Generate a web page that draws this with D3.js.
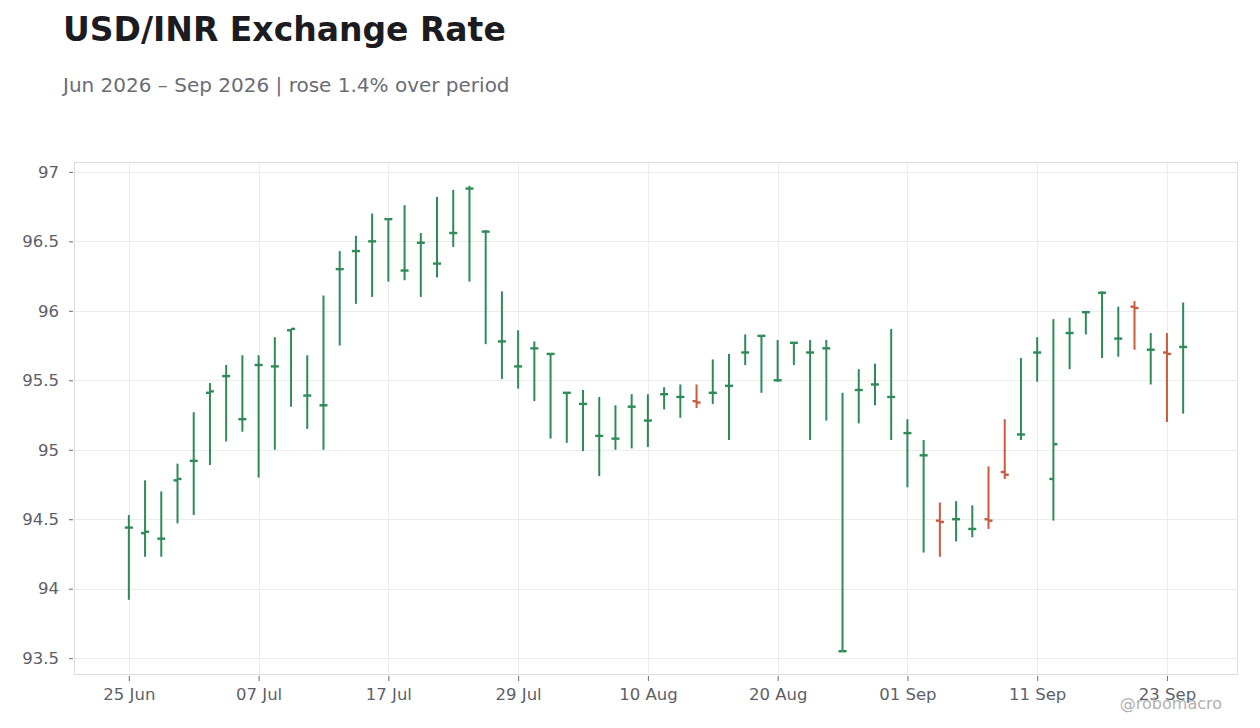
<!DOCTYPE html>
<html>
<head>
<meta charset="utf-8">
<script src="https://cdn.jsdelivr.net/npm/d3@7"></script>
<style>
  body { margin: 0; background: #ffffff; font-family: "DejaVu Sans", sans-serif; }
  .axis text { font-family: "DejaVu Sans", sans-serif; font-size: 16.5px; fill: #5c5f69; }
  .axis line { stroke: #666a72; }
  .axis path { display: none; }
</style>
</head>
<body>
<svg id="chart"></svg>
<script>
// trading days
const dates = [
  "2026-06-25","2026-06-26","2026-06-29","2026-06-30",
  "2026-07-01","2026-07-02","2026-07-03","2026-07-06","2026-07-07","2026-07-08","2026-07-09","2026-07-10",
  "2026-07-13","2026-07-14","2026-07-15","2026-07-16","2026-07-17","2026-07-20","2026-07-21","2026-07-22",
  "2026-07-23","2026-07-24","2026-07-27","2026-07-28","2026-07-29","2026-07-30","2026-07-31",
  "2026-08-03","2026-08-04","2026-08-05","2026-08-06","2026-08-07","2026-08-10","2026-08-11","2026-08-12",
  "2026-08-13","2026-08-14","2026-08-17","2026-08-18","2026-08-19","2026-08-20","2026-08-21","2026-08-24",
  "2026-08-25","2026-08-26","2026-08-27","2026-08-28","2026-08-31",
  "2026-09-01","2026-09-02","2026-09-03","2026-09-04","2026-09-07","2026-09-08","2026-09-09","2026-09-10",
  "2026-09-11","2026-09-14","2026-09-15","2026-09-16","2026-09-17","2026-09-18","2026-09-21","2026-09-22",
  "2026-09-23","2026-09-24"
];

const opens = [
  94.44,94.40,94.36,94.78,94.92,95.41,95.53,95.22,95.61,95.60,95.86,95.39,95.32,96.30,96.43,96.50,
  96.66,96.29,96.49,96.34,96.56,96.88,96.57,95.78,95.60,95.73,95.69,95.41,95.33,95.10,95.08,95.31,
  95.21,95.40,95.38,95.35,95.41,95.46,95.70,95.82,95.50,95.77,95.70,95.73,93.55,95.43,95.47,95.38,
  95.12,94.96,94.49,94.50,94.43,94.50,94.84,95.11,95.70,94.79,95.84,95.99,96.13,95.80,96.03,95.72,
  95.70,95.74
];
const highs = [
  94.53,94.78,94.70,94.90,95.27,95.48,95.61,95.68,95.68,95.81,95.87,95.68,96.11,96.43,96.54,96.70,
  96.66,96.76,96.56,96.82,96.87,96.90,96.58,96.14,95.86,95.78,95.69,95.41,95.43,95.38,95.32,95.40,
  95.40,95.45,95.47,95.47,95.65,95.69,95.83,95.82,95.79,95.77,95.79,95.79,95.41,95.58,95.62,95.87,
  95.22,95.07,94.62,94.63,94.60,94.88,95.22,95.66,95.81,95.94,95.95,96.00,96.14,96.03,96.07,95.84,
  95.84,96.06
];
const lows = [
  93.92,94.23,94.23,94.47,94.53,94.89,95.06,95.13,94.80,95.00,95.31,95.15,95.00,95.75,96.05,96.10,
  96.21,96.22,96.10,96.24,96.46,96.21,95.76,95.51,95.44,95.35,95.08,95.05,94.99,94.81,95.00,95.01,
  95.02,95.29,95.23,95.30,95.33,95.07,95.61,95.41,95.49,95.61,95.07,95.21,93.55,95.19,95.32,95.07,
  94.73,94.26,94.23,94.34,94.37,94.43,94.79,95.07,95.49,94.49,95.58,95.83,95.66,95.67,95.72,95.47,
  95.20,95.26
];
const closes = [
  94.44,94.41,94.36,94.79,94.92,95.42,95.53,95.22,95.61,95.60,95.87,95.39,95.32,96.30,96.43,96.50,
  96.66,96.29,96.49,96.34,96.56,96.88,96.57,95.78,95.60,95.73,95.69,95.41,95.33,95.10,95.08,95.31,
  95.21,95.40,95.38,95.34,95.41,95.46,95.70,95.82,95.50,95.77,95.70,95.73,93.55,95.43,95.47,95.38,
  95.12,94.96,94.48,94.50,94.43,94.49,94.82,95.11,95.70,95.04,95.84,95.99,96.13,95.80,96.02,95.72,
  95.69,95.74
];

const yTicks = [93.5, 94, 94.5, 95, 95.5, 96, 96.5, 97];

const data = dates.map((d, i) => ({ date: d, open: opens[i], high: highs[i], low: lows[i], close: closes[i] }));

const width = 1260, height = 728;
const margin = { top: 162, right: 22, bottom: 54, left: 75 };
const upColor = "#2e8b57", downColor = "#c95a3b";

const svg = d3.select("#chart").attr("width", width).attr("height", height);

svg.append("text")
  .attr("x", 63).attr("y", 41)
  .attr("font-size", 33).attr("font-weight", "bold")
  .attr("fill", "#1c1c20")
  .text("USD/INR Exchange Rate");

svg.append("text")
  .attr("x", 63).attr("y", 92)
  .attr("font-size", 20).attr("fill", "#6a6d75")
  .text("Jun 2026 \u2013 Sep 2026 | rose 1.4% over period");

const x0 = margin.left - 0.5, x1 = width - margin.right - 0.5;
const y0 = height - margin.bottom + 0.5, y1 = margin.top + 0.5;

const xScale = d3.scalePoint()
  .domain(dates)
  .range([x0, x1])
  .padding(3.35);

const lo = d3.min(lows), hi = d3.max(highs), pad = (hi - lo) * 0.05;
const yScale = d3.scaleLinear()
  .domain([lo - pad, hi + pad])
  .range([y0, y1]);

const tickDates = dates.filter((d, i) => i % 8 === 0);
const parse = d3.timeParse("%Y-%m-%d");
const fmt = d3.timeFormat("%d %b");

// grid
const grid = svg.append("g");
grid.selectAll(".hgrid")
  .data(yTicks)
  .enter()
.append("line")
  .attr("x1", x0).attr("x2", x1)
  .attr("y1", d => Math.round(yScale(d)) + 0.5)
  .attr("y2", d => Math.round(yScale(d)) + 0.5)
  .attr("stroke", "#ececec");
grid.selectAll(".vgrid")
  .data(tickDates)
  .enter()
.append("line")
  .attr("y1", y1).attr("y2", y0)
  .attr("x1", d => Math.round(xScale(d)) + 0.5)
  .attr("x2", d => Math.round(xScale(d)) + 0.5)
  .attr("stroke", "#ececec");

// frame
svg.append("rect")
  .attr("x", x0).attr("y", y1)
  .attr("width", x1 - x0).attr("height", y0 - y1)
  .attr("fill", "none")
  .attr("stroke", "#dddddd");

// axes
const yAxis = d3.axisLeft(yScale).tickValues(yTicks).tickSize(4).tickPadding(10).tickFormat(d3.format("~g"));
svg.append("g")
  .attr("class", "axis y-axis")
  .attr("transform", `translate(${x0 - 1.5},0)`)
  .call(yAxis);

const xAxis = d3.axisBottom(xScale).tickValues(tickDates).tickSize(5).tickPadding(7)
  .tickFormat(d => fmt(parse(d)));
svg.append("g")
  .attr("class", "axis x-axis")
  .attr("transform", `translate(0,${y0 + 1.5})`)
  .call(xAxis);

// OHLC bars
const bars = svg.append("g").selectAll(".bar")
  .data(data)
  .enter()
.append("g")
  .attr("class", "bar")
  .attr("stroke", d => d.close >= d.open ? upColor : downColor)
  .attr("transform", d => `translate(${xScale(d.date)},0)`);

bars.append("line")
  .attr("y1", d => yScale(d.high))
  .attr("y2", d => yScale(d.low))
  .attr("stroke-width", 2);

bars.append("line")
  .attr("x1", -4).attr("x2", 0)
  .attr("y1", d => yScale(d.open))
  .attr("y2", d => yScale(d.open))
  .attr("stroke-width", 2.4);

bars.append("line")
  .attr("x1", 0).attr("x2", 4)
  .attr("y1", d => yScale(d.close))
  .attr("y2", d => yScale(d.close))
  .attr("stroke-width", 2.4);

svg.append("text")
  .attr("x", 1222).attr("y", 709)
  .attr("text-anchor", "end")
  .attr("font-size", 16).attr("fill", "#b0b0b4")
  .text("@robomacro");
</script>
</body>
</html>
